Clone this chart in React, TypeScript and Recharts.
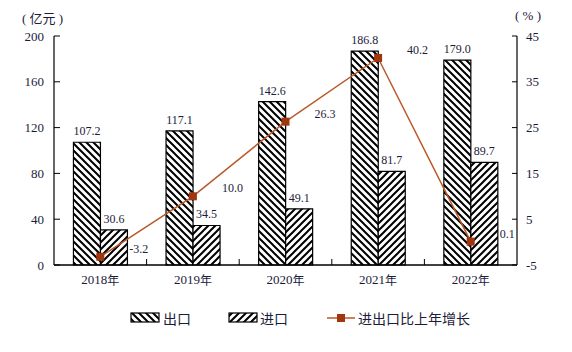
import React from "react";
import {
  ComposedChart,
  Bar,
  Line,
  XAxis,
  YAxis,
  LabelList,
} from "recharts";

const years = ["2018年", "2019年", "2020年", "2021年", "2022年"];
const exportsVal = [107.2, 117.1, 142.6, 186.8, 179.0];
const importsVal = [30.6, 34.5, 49.1, 81.7, 89.7];
const growth = [-3.2, 10.0, 26.3, 40.2, 0.1];
const leftTicks = [0, 40, 80, 120, 160, 200];
const rightTicks = [-5, 5, 15, 25, 35, 45];

const data = years.map((y, i) => ({
  year: y,
  exp: exportsVal[i],
  imp: importsVal[i],
  growth: growth[i],
}));

const W = 572;
const H = 352;
const LEFT = 54;
const RIGHT_W = 55;
const BAND = (W - LEFT - RIGHT_W) / years.length;

const textColor = "#1c1c3a";
const lineColor = "#b85a2a";
const dotColor = "#a0360f";
const serif = "'Liberation Serif', 'Times New Roman', serif";
const cjk = "'Noto Sans CJK SC', sans-serif";

const XTick = (props: any) => {
  const { x, y, payload, index } = props;
  return (
    <g>
      <text
        x={x}
        y={y + 14}
        textAnchor="middle"
        dominantBaseline="central"
        fontSize={13}
        fill={textColor}
        fontFamily={serif}
      >
        {payload.value.replace("年", "")}
        <tspan fontFamily={cjk} fontSize={12}>年</tspan>
      </text>
      {index < years.length - 1 && (
        <line x1={x + BAND / 2} x2={x + BAND / 2} y1={y} y2={y - 6} stroke="#000" strokeWidth={1} />
      )}
    </g>
  );
};

const SquareDot = (props: any) => {
  const { cx, cy, index } = props;
  return <rect key={`d-${index}`} x={cx - 4} y={cy - 4} width={8} height={8} fill={dotColor} />;
};

const GrowthLabel = (props: any) => {
  const { x, y, value, index } = props;
  return (
    <text
      key={`gl-${index}`}
      x={x + 29}
      y={y - 8}
      textAnchor="start"
      dominantBaseline="central"
      fontSize={12}
      fill={textColor}
      fontFamily={serif}
    >
      {Number(value).toFixed(1)}
    </text>
  );
};

const fmt = (v: any) => Number(v).toFixed(1);

export default function App() {
  return (
    <div style={{ position: "absolute", left: 0, top: 0, width: W, height: H, background: "#fff" }}>
      <ComposedChart
        width={W}
        height={H}
        data={data}
        margin={{ top: 36, right: 0, left: 0, bottom: 57 }}
        barCategoryGap="21%"
        barGap={0}
      >
        <defs>
          <pattern id="hatchExp" patternUnits="userSpaceOnUse" width={7} height={7}>
            <rect width={7} height={7} fill="#fff" />
            <path d="M0,0 L7,7 M-1,6 L1,8 M6,-1 L8,1" stroke="#000" strokeWidth={2} />
          </pattern>
          <pattern id="hatchImp" patternUnits="userSpaceOnUse" width={7} height={7}>
            <rect width={7} height={7} fill="#fff" />
            <path d="M0,7 L7,0 M-1,1 L1,-1 M6,8 L8,6" stroke="#000" strokeWidth={2} />
          </pattern>
        </defs>
        <XAxis
          dataKey="year"
          tickLine={false}
          tickSize={0}
          tickMargin={0}
          tick={<XTick />}
          axisLine={{ stroke: "#000", strokeWidth: 1.5 }}
          height={30}
          interval={0}
        />
        <YAxis
          yAxisId="left"
          width={LEFT}
          domain={[0, 200]}
          ticks={leftTicks}
          tickSize={-6}
          tickMargin={16}
          axisLine={{ stroke: "#000", strokeWidth: 1.2 }}
          tickLine={{ stroke: "#000" }}
          tick={{ fontSize: 13, fill: textColor, fontFamily: serif }}
        />
        <YAxis
          yAxisId="right"
          orientation="right"
          width={RIGHT_W}
          domain={[-5, 45]}
          ticks={rightTicks}
          tickSize={-5}
          tickMargin={14}
          axisLine={{ stroke: "#000", strokeWidth: 1.2 }}
          tickLine={{ stroke: "#000" }}
          tick={{ fontSize: 13, fill: textColor, fontFamily: serif, textAnchor: "start" }}
        />
        <Bar yAxisId="left" dataKey="exp" fill="url(#hatchExp)" stroke="#000" strokeWidth={1.2} isAnimationActive={false}>
          <LabelList dataKey="exp" position="top" offset={7} formatter={fmt} style={{ fontSize: 12, fill: textColor, fontFamily: serif }} />
        </Bar>
        <Bar yAxisId="left" dataKey="imp" fill="url(#hatchImp)" stroke="#000" strokeWidth={1.2} isAnimationActive={false}>
          <LabelList dataKey="imp" position="top" offset={7} formatter={fmt} style={{ fontSize: 12, fill: textColor, fontFamily: serif }} />
        </Bar>
        <Line
          yAxisId="right"
          dataKey="growth"
          stroke={lineColor}
          strokeWidth={1.5}
          dot={SquareDot}
          activeDot={false}
          isAnimationActive={false}
          label={GrowthLabel}
        />
      </ComposedChart>

      <div style={{ position: "absolute", left: 22, top: 8, fontSize: 13, fontFamily: serif, color: textColor, whiteSpace: "pre" }}>
        {"( "}<span style={{ fontFamily: cjk }}>亿元</span>{" )"}
      </div>
      <div style={{ position: "absolute", left: 515, top: 8, fontSize: 13, fontFamily: serif, color: textColor, whiteSpace: "pre" }}>
        {"( % )"}
      </div>

      <svg style={{ position: "absolute", left: 0, top: 300 }} width={W} height={36}>
        <defs>
          <pattern id="legExp" patternUnits="userSpaceOnUse" width={7} height={7}>
            <rect width={7} height={7} fill="#fff" />
            <path d="M0,0 L7,7 M-1,6 L1,8 M6,-1 L8,1" stroke="#000" strokeWidth={2} />
          </pattern>
          <pattern id="legImp" patternUnits="userSpaceOnUse" width={7} height={7}>
            <rect width={7} height={7} fill="#fff" />
            <path d="M0,7 L7,0 M-1,1 L1,-1 M6,8 L8,6" stroke="#000" strokeWidth={2} />
          </pattern>
        </defs>
        <rect x={131} y={13} width={28} height={9} fill="url(#legExp)" stroke="#000" strokeWidth={1.2} />
        <text x={163} y={18} dominantBaseline="central" fontSize={14} fontFamily={cjk} fill={textColor}>出口</text>
        <rect x={229} y={13} width={28} height={9} fill="url(#legImp)" stroke="#000" strokeWidth={1.2} />
        <text x={260} y={18} dominantBaseline="central" fontSize={14} fontFamily={cjk} fill={textColor}>进口</text>
        <line x1={327} x2={355} y1={18} y2={18} stroke={lineColor} strokeWidth={1.5} />
        <rect x={337} y={14} width={8} height={8} fill={dotColor} />
        <text x={358} y={18} dominantBaseline="central" fontSize={14} fontFamily={cjk} fill={textColor}>进出口比上年增长</text>
      </svg>
    </div>
  );
}
